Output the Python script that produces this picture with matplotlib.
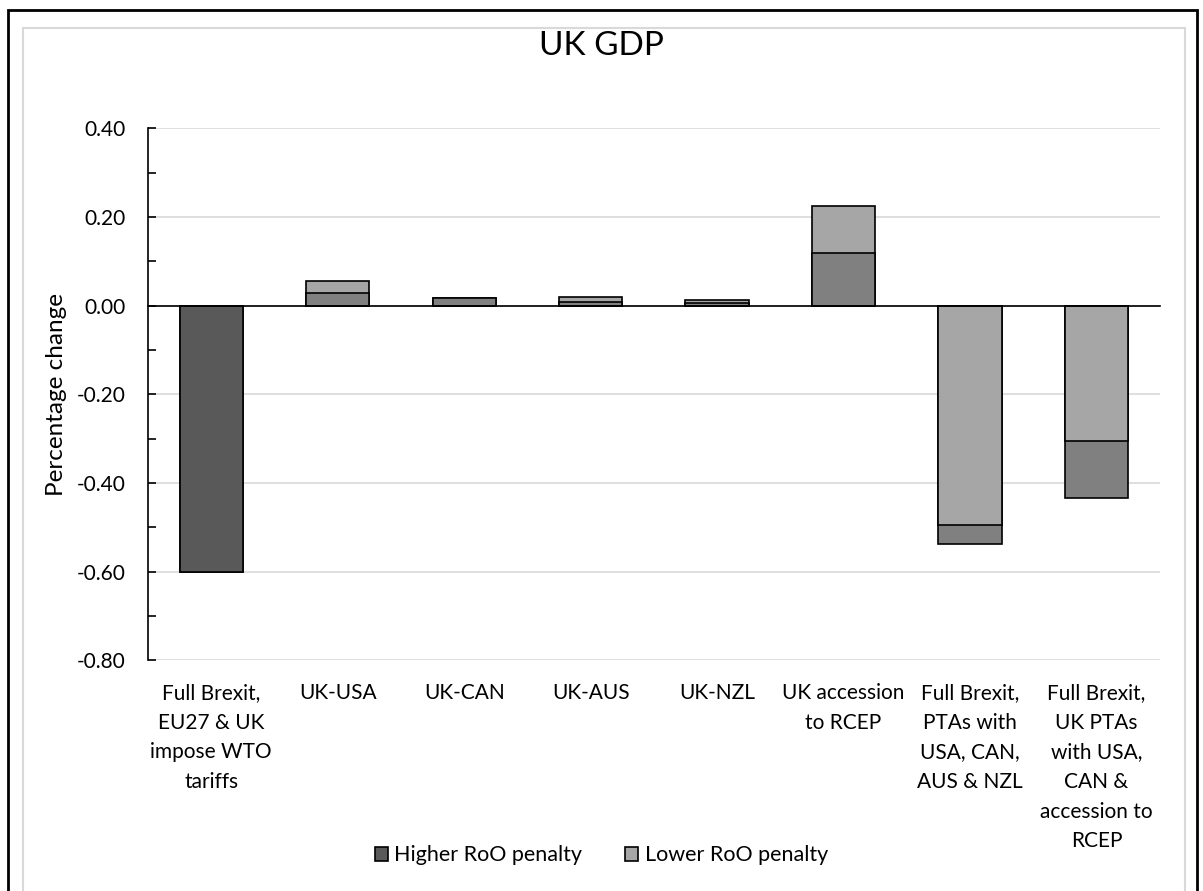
import matplotlib.pyplot as plt
import numpy as np
from matplotlib.patches import Rectangle
from matplotlib.ticker import MultipleLocator
from matplotlib.transforms import blended_transform_factory, offset_copy

# Scenario labels (wrapped as on the original chart)
categories = [
    "Full Brexit,\nEU27 & UK\nimpose WTO\ntariffs",
    "UK-USA",
    "UK-CAN",
    "UK-AUS",
    "UK-NZL",
    "UK accession\nto RCEP",
    "Full Brexit,\nPTAs with\nUSA, CAN,\nAUS & NZL",
    "Full Brexit,\nUK PTAs\nwith USA,\nCAN &\naccession to\nRCEP",
]

# Percentage change in UK GDP
higher_roo = [-0.600, 0.028, 0.017, 0.009, 0.006, 0.119, -0.537, -0.435]
lower_roo = [-0.600, 0.056, 0.017, 0.020, 0.012, 0.224, -0.494, -0.305]

yticks = [0.40, 0.20, 0.00, -0.20, -0.40, -0.60, -0.80]

plt.rcParams['font.family'] = ['Lato', 'DejaVu Sans']

fig = plt.figure(figsize=(12.03, 8.91), dpi=100)
ax = fig.add_axes([0.123, 0.259, 0.841, 0.597])

dark = '#808080'
light = '#a6a6a6'

x = np.arange(len(categories))
bars_h = ax.bar(x, higher_roo, width=0.5, color=dark, edgecolor='black',
                linewidth=1.2, label='Higher RoO penalty')
bars_l = ax.bar(x, lower_roo, width=0.5, color=light, edgecolor='black',
                linewidth=1.2, label='Lower RoO penalty')

# overlapping bars: the smaller change sits in front
for i in range(len(categories)):
    if abs(lower_roo[i]) >= abs(higher_roo[i]):
        bars_l[i].set_zorder(2)
        bars_h[i].set_zorder(3)
    else:
        bars_h[i].set_zorder(2)
        bars_l[i].set_zorder(3)

# the WTO scenario bar is shaded darker in the original
bars_h[0].set_facecolor('#595959')

ax.set_xlim(-0.5, len(categories) - 0.5)
ax.set_ylim(-0.8, 0.4)
ax.set_yticks(yticks)
ax.set_yticklabels([f"{v:.2f}" for v in yticks])
ax.yaxis.set_minor_locator(MultipleLocator(0.1))
ax.tick_params(axis='y', which='both', direction='in', length=6, width=1.2,
               labelsize=15, pad=16)

# category labels sit under the plot area, not on the zero line
ax.set_xticks([])
trans = offset_copy(blended_transform_factory(ax.transData, ax.transAxes),
                    fig=fig, y=-23, units='dots')
for xi, label in zip(x, categories):
    ax.text(xi, 0, label, transform=trans, ha='center', va='top',
            fontsize=15, linespacing=1.6, multialignment='center')

ax.grid(axis='y', color='#d9d9d9', linewidth=1.2, zorder=0)
ax.set_axisbelow(True)

for side in ['top', 'right']:
    ax.spines[side].set_visible(False)
ax.spines['bottom'].set_position(('data', 0))
ax.spines['bottom'].set_zorder(5)
ax.spines['left'].set_linewidth(1.2)
ax.spines['bottom'].set_linewidth(1.2)

ax.set_ylabel('Percentage change', fontsize=17.5, labelpad=7)
fig.text(0.5, 0.948, 'UK GDP', ha='center', va='center', fontsize=24)

fig.legend(handles=[bars_h, bars_l], loc='center', bbox_to_anchor=(0.5, 0.04),
           ncol=2, frameon=False, fontsize=15.5, handlelength=0.6,
           handleheight=0.6, handletextpad=0.3, columnspacing=2.0)

# chart area borders
fig.patches.append(Rectangle((23 / 1203, -0.1), (1185 - 23) / 1203, 1.1 - 28 / 891,
                             transform=fig.transFigure, fill=False,
                             edgecolor='#d9d9d9', linewidth=1.5))
fig.patches.append(Rectangle((8 / 1203, -0.1), (1197 - 8) / 1203, 1.1 - 10 / 891,
                             transform=fig.transFigure, fill=False,
                             edgecolor='black', linewidth=2))

fig.savefig('out.png', dpi=100)
